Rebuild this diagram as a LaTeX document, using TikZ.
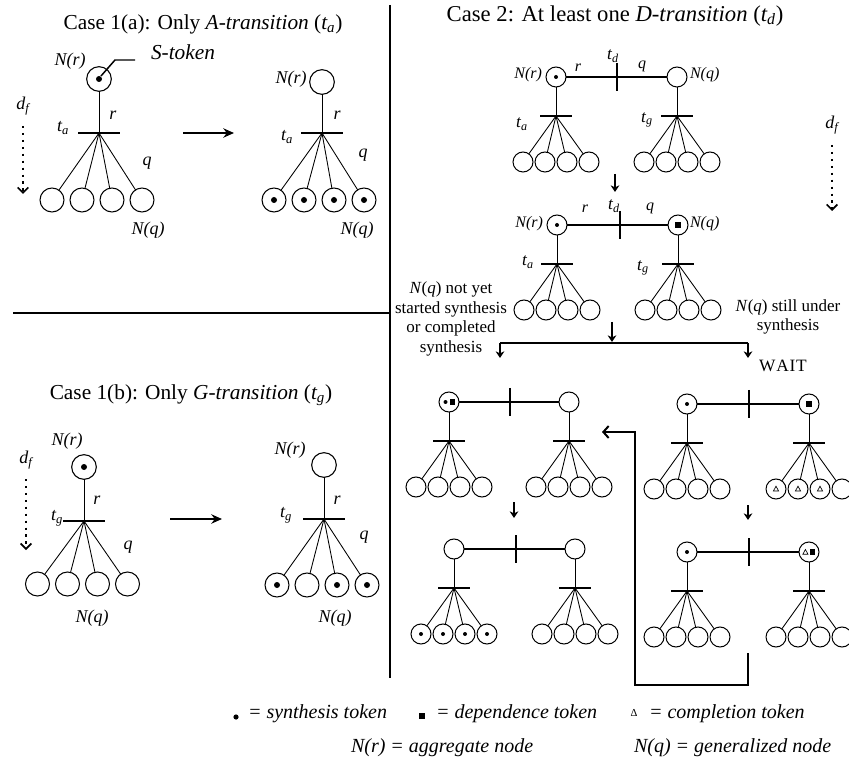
\documentclass[tikz,border=0pt]{standalone}
\usepackage{fontspec}
\setmainfont{Liberation Serif}
\usetikzlibrary{arrows.meta,calc}

\tikzset{
  every node/.style={inner sep=0pt, outer sep=0pt},
  rootpl/.style={circle, draw, line width=0.8pt, minimum size=18.5pt},
  leafpl/.style={circle, draw, line width=0.8pt, minimum size=18pt},
  smallpl/.style={circle, draw, line width=0.75pt, minimum size=15pt},
  stem/.style={line width=0.65pt},
  tbar/.style={line width=1.3pt},
  link/.style={line width=1.1pt},
  tickmark/.style={line width=1.2pt},
  divider/.style={line width=2.2pt},
  bigarrow/.style={line width=1.6pt, -{Stealth[length=8pt,width=7pt]}},
  dnarrow/.style={line width=1.5pt, -{Stealth[length=5pt,width=6.5pt]}},
  dfarrow/.style={line width=1.5pt, dash pattern=on 1.6pt off 3.6pt,
                  -{Straight Barb[length=4pt,width=8pt,line width=1.3pt]}},
  title/.style={font=\fontsize{16}{19}\selectfont},
  wtitle/.style={font=\fontsize{17}{20}\selectfont},
  lab/.style={font=\fontsize{13.5}{15}\selectfont\itshape},
  slab/.style={font=\fontsize{12}{13}\selectfont\itshape},
  tlab/.style={font=\fontsize{13}{14}\selectfont\itshape},
  side/.style={font=\fontsize{12.75}{14.6}\selectfont, align=center},
  legend/.style={font=\fontsize{15}{17}\selectfont\itshape, anchor=west},
}

% synthesis, dependence and completion tokens
\newcommand\sdot[2][2.8]{\fill (#2) circle (#1);}
\newcommand\dsq[1]{\fill ($(#1)+(-2.6,-2.6)$) rectangle ($(#1)+(2.6,2.6)$);}
\newcommand\ctri[1]{\draw[line width=0.5pt] ($(#1)+(-2.6,2)$) -- ($(#1)+(2.6,2)$) -- ($(#1)+(0,-2.8)$) -- cycle;}

% one place with its transition fanning out to four places
\newcommand\fantree[6]{%
  \node[rootpl] (#1r) at (#2,#3) {};
  \coordinate (#1t) at (#2,#4);
  \draw[stem] (#1r) -- (#1t);
  \draw[tbar] ($(#1t)+(-21,0)$) -- ($(#1t)+(21,0)$);
  \foreach \cx [count=\k] in {#6} {
    \node[leafpl] (#1c\k) at (\cx,#5) {};
    \draw[stem] (#1t) -- (#1c\k);
  }%
}

% aggregate and generalized node joined by a D-transition
\newcommand\pairtree[5]{%
  \node[smallpl] (#1L) at (#2,#4) {};
  \node[smallpl] (#1R) at (#3,#4) {};
  \draw[link] (#1L) -- (#1R);
  \coordinate (#1k) at (#5,#4);
  \draw[tickmark] ($(#1k)+(0,-14)$) -- ($(#1k)+(0,14)$);
  \foreach \s in {L,R} {
    \coordinate (#1\s t) at ($(#1\s)+(0,39)$);
    \draw[stem] (#1\s) -- (#1\s t);
    \draw[tbar] ($(#1\s t)+(-16,0)$) -- ($(#1\s t)+(16,0)$);
    \foreach \dx [count=\k] in {-33,-11,11,33} {
      \node[smallpl] (#1\s c\k) at ($(#1\s)+(\dx,85)$) {};
      \draw[stem] (#1\s t) -- (#1\s c\k);
    }
  }%
}

\begin{document}
\begin{tikzpicture}[x=0.75pt,y=-0.75pt]
\useasboundingbox (0,0) rectangle (849,762);
\clip (0,0) rectangle (849,762);

% panel dividers
\coordinate (vtop) at (390,5);
\coordinate (vbot) at (390,678);
\coordinate (hleft) at (13,313);
\coordinate (hright) at (390,313);
\draw[divider] (vtop) -- (vbot);
\draw[divider] (hleft) -- (hright);

% ---------------- Case 1(a) ----------------
\node[title] (ttla) at (203,24) {Case 1(a): Only \textit{A-transition} (\textit{t\textsubscript{a}})};

\fantree{a}{99}{79}{133}{200}{52,82,112,142}
\sdot[3]{ar}
\coordinate (slead1) at (115,60);
\coordinate (slead2) at (135,60);
\draw[line width=1.1pt] ($(ar)+(2,-3)$) -- (slead1) -- (slead2);
\node[font=\fontsize{16}{18}\selectfont\itshape] (stok) at (183,52) {S-token};
\node[lab] (anr) at (70,61) {N(r)};
\node[lab] (ata) at (63,128) {t\textsubscript{a}};
\node[lab] (ar_) at (113,115) {r};
\node[lab] (aq) at (147,163) {q};
\node[lab] (anq) at (148,230) {N(q)};
\node[lab] (adf) at (23,106) {d\textsubscript{f}};
\coordinate (adf1) at (23,126);
\coordinate (adf2) at (23,194);
\draw[dfarrow] (adf1) -- (adf2);

\coordinate (arw1) at (183,133);
\coordinate (arw2) at (234,133);
\draw[bigarrow] (arw1) -- (arw2);

\fantree{b}{322}{82}{133}{200}{274,304,334,364}
\foreach \k in {1,...,4} {\sdot[3]{bc\k}}
\node[lab] (bnr) at (291,79) {N(r)};
\node[lab] (bta) at (287,137) {t\textsubscript{a}};
\node[lab] (br_) at (337,115) {r};
\node[lab] (bq) at (363,155) {q};
\node[lab] (bnq) at (357,230) {N(q)};

% ---------------- Case 1(b) ----------------
\node[title] (ttlb) at (191,395) {Case 1(b): Only \textit{G-transition} (\textit{t\textsubscript{g}})};

\fantree{c}{84}{467}{521}{584}{37.5,67.5,97.5,127.5}
\sdot[3]{cr}
\node[lab] (cnr) at (67,441) {N(r)};
\node[lab] (ctg) at (57,518) {t\textsubscript{g}};
\node[lab] (cr_) at (97,500) {r};
\node[lab] (cq) at (128,547) {q};
\node[lab] (cnq) at (92,618) {N(q)};
\node[lab] (cdf) at (26,460) {d\textsubscript{f}};
\coordinate (cdf1) at (26,479);
\coordinate (cdf2) at (26,550);
\draw[dfarrow] (cdf1) -- (cdf2);

\coordinate (crw1) at (170,519);
\coordinate (crw2) at (222,519);
\draw[bigarrow] (crw1) -- (crw2);

\fantree{d}{324}{465}{519}{585}{277,307,337,367}
\foreach \k in {1,3,4} {\sdot[3]{dc\k}}
\node[lab] (dnr) at (290,450) {N(r)};
\node[lab] (dtg) at (286,515) {t\textsubscript{g}};
\node[lab] (dr_) at (337,500) {r};
\node[lab] (dq) at (364,537) {q};
\node[lab] (dnq) at (335,618) {N(q)};

% ---------------- Case 2 ----------------
\node[wtitle] (ttlc) at (615,16) {Case 2: At least one \textit{D-transition} (\textit{t\textsubscript{d}})};

% first state
\pairtree{p}{556}{677}{77}{617}
\sdot[2]{pL}
\node[slab, anchor=east] (pnr) at (542,75) {N(r)};
\node[slab, anchor=west] (pnq) at (690,75) {N(q)};
\node[slab] (pr_) at (578,68) {r};
\node[slab] (pq) at (642,66) {q};
\node[tlab] (ptd) at (613,56) {t\textsubscript{d}};
\node[tlab] (pta) at (522,124) {t\textsubscript{a}};
\node[tlab] (ptg) at (647,120) {t\textsubscript{g}};

\node[lab] (edf) at (832,125) {d\textsubscript{f}};
\coordinate (edf1) at (832,145);
\coordinate (edf2) at (832,211);
\draw[dfarrow] (edf1) -- (edf2);

\coordinate (m1a) at (615,174);
\coordinate (m1b) at (615,192);
\draw[dnarrow] (m1a) -- (m1b);

% second state: dependence token reaches N(q)
\pairtree{q}{557}{678}{225}{620}
\sdot[2]{qL}
\dsq{qR}
\node[slab, anchor=east] (qnr) at (543,224) {N(r)};
\node[slab, anchor=west] (qnq) at (690,224) {N(q)};
\node[slab] (qr_) at (585,209) {r};
\node[slab] (qq) at (650,208) {q};
\node[tlab] (qtd) at (614,206) {t\textsubscript{d}};
\node[tlab] (qta) at (528,262) {t\textsubscript{a}};
\node[tlab] (qtg) at (643,268) {t\textsubscript{g}};

\node[side] (lnote) at (451,319) {\textit{N}(\textit{q}) not yet\\started synthesis\\or completed\\synthesis};
\node[side] (rnote) at (788,317) {\textit{N}(\textit{q}) still under\\synthesis};

% branching to the two outcomes
\coordinate (m2a) at (612,322);
\coordinate (m2b) at (612,342);
\coordinate (brl) at (500,343);
\coordinate (brr) at (748,343);
\coordinate (brl2) at (500,358);
\coordinate (brr2) at (748,358);
\draw[dnarrow] (m2a) -- (m2b);
\draw[line width=1.8pt] (brl) -- (brr);
\draw[dnarrow] (brl) -- (brl2);
\draw[dnarrow] (brr) -- (brr2);
\node[font=\fontsize{13}{15}\selectfont] (wait) at (783,366) {W\kern0.6pt A\kern0.6pt I\kern0.6pt T};

% left branch
\pairtree{u}{449}{569}{402}{510}
\sdot[2]{$(uL)+(-3.5,0)$}
\dsq{$(uL)+(3.2,0)$}
\coordinate (m3a) at (514,502);
\coordinate (m3b) at (514,518);
\draw[dnarrow] (m3a) -- (m3b);

\pairtree{v}{454}{575}{549}{516}
\foreach \k in {1,...,4} {\sdot[2]{vLc\k}}

% right branch
\pairtree{w}{687}{809}{404}{749}
\sdot[2]{wL}
\dsq{wR}
\foreach \k in {1,2,3} {\ctri{wRc\k}}
\coordinate (m4a) at (748,505);
\coordinate (m4b) at (748,520);
\draw[dnarrow] (m4a) -- (m4b);

\pairtree{z}{687}{809}{552}{749}
\sdot[2]{zL}
\ctri{$(zR)+(-3.6,0.3)$}
\dsq{$(zR)+(3.4,0)$}

% return to the left branch once synthesis completes
\coordinate (lp1) at (748,653);
\coordinate (lp2) at (748,685);
\coordinate (lp3) at (635,685);
\coordinate (lp4) at (635,432);
\coordinate (lp5) at (602,432);
\draw[line width=1.6pt, -{Straight Barb[length=4pt,width=9pt,line width=1.5pt]}]
  (lp1) -- (lp2) -- (lp3) -- (lp4) -- (lp5);

% ---------------- legend ----------------
\coordinate (lgdot) at (236,717);
\fill (lgdot) circle (2.6);
\node[legend] (lg1) at (248,714) {= synthesis token};
\coordinate (lgsq) at (422,716);
\dsq{lgsq}
\node[legend] (lg2) at (436,714) {= dependence token};
\node[font=\fontsize{8}{9}\selectfont] (lgtri) at (634,713) {Δ};
\node[legend] (lg3) at (649,714) {= completion token};
\node[legend] (lg4) at (351,748) {N(r) = aggregate node};
\node[legend] (lg5) at (634,748) {N(q) = generalized node};
\end{tikzpicture}
\end{document}
